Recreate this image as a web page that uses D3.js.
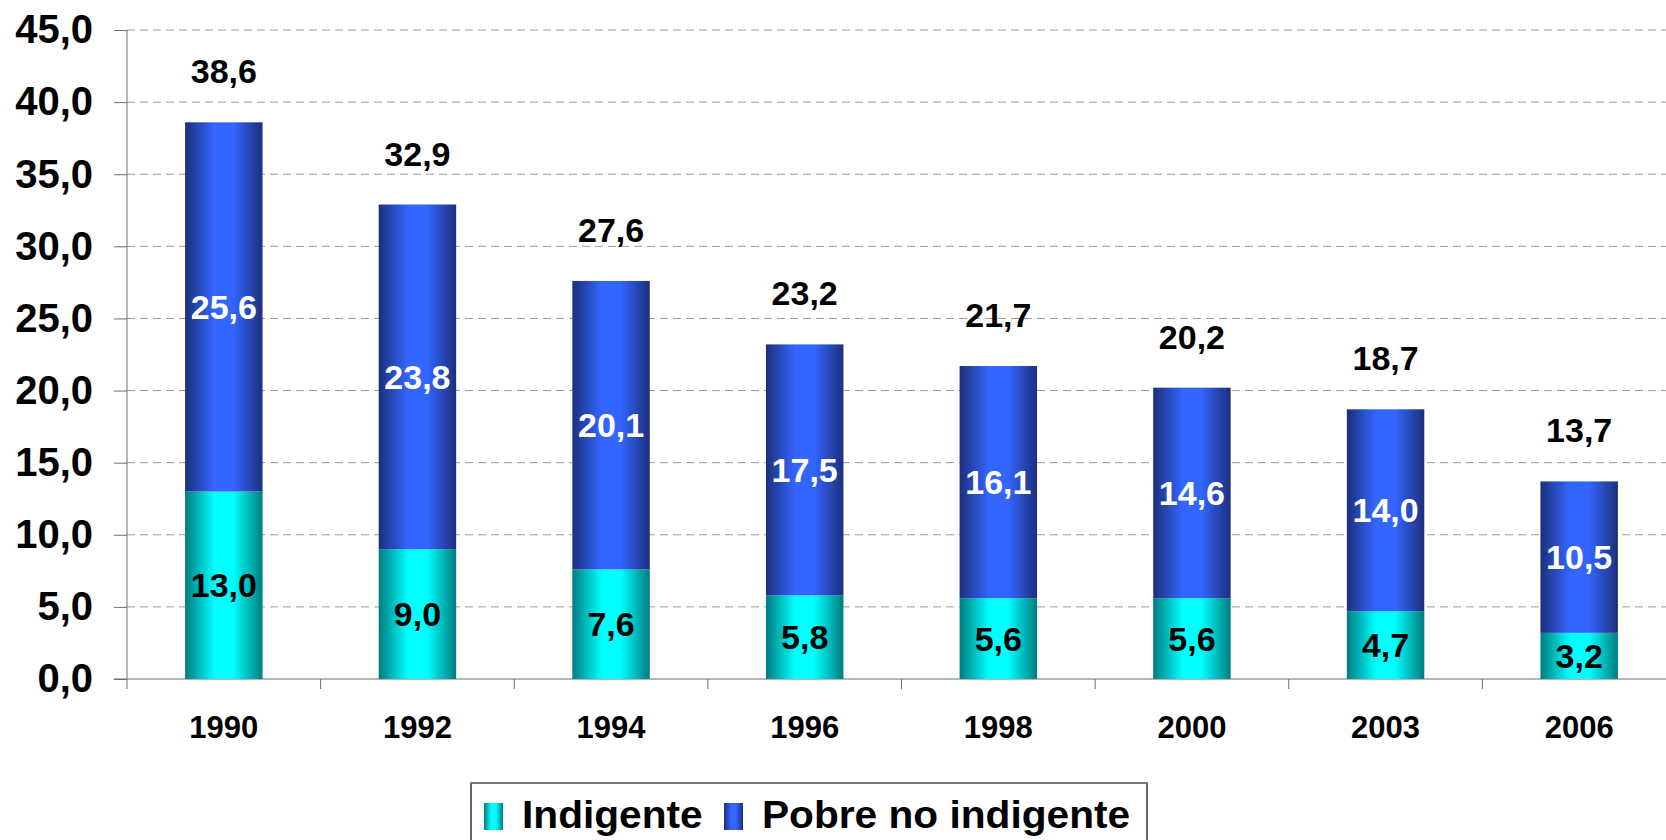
<!DOCTYPE html>
<html>
<head>
<meta charset="utf-8">
<script src="https://cdn.jsdelivr.net/npm/d3@7"></script>
<style>
  html, body { margin: 0; padding: 0; background: #fff; overflow: hidden; }
  svg { display: block; font-family: "Liberation Sans", Arial, sans-serif; font-weight: bold; }
  .grid line { stroke: #9a9a9a; stroke-dasharray: 8,5; }
  .axis path, .axis line { stroke: #6e6e6e; }
</style>
</head>
<body>
<div id="chart"></div>
<script>
const years = ["1990", "1992", "1994", "1996", "1998", "2000", "2003", "2006"];
const indigente = [13.0, 9.0, 7.6, 5.8, 5.6, 5.6, 4.7, 3.2];
const pobreNoIndigente = [25.6, 23.8, 20.1, 17.5, 16.1, 14.6, 14.0, 10.5];
const totals = [38.6, 32.9, 27.6, 23.2, 21.7, 20.2, 18.7, 13.7];
const yTicks = [0, 5, 10, 15, 20, 25, 30, 35, 40, 45];
const seriesNames = ["Indigente", "Pobre no indigente"];

const svgWidth = 1666, svgHeight = 840;
const margin = {top: 30, left: 127};
const plotRight = 1676, plotBottom = 679;
const fmt = v => v.toFixed(1).replace(".", ",");

const svg = d3.select("#chart").append("svg")
    .attr("width", svgWidth)
    .attr("height", svgHeight);

// bar gradients: dark edges, bright middle
const defs = svg.append("defs");
function addGradient(id, dark, bright) {
    const g = defs.append("linearGradient").attr("id", id)
        .attr("x1", "0%").attr("x2", "100%").attr("y1", "0%").attr("y2", "0%");
    g.append("stop").attr("offset", "0%").attr("stop-color", dark);
    g.append("stop").attr("offset", "38%").attr("stop-color", bright);
    g.append("stop").attr("offset", "62%").attr("stop-color", bright);
    g.append("stop").attr("offset", "100%").attr("stop-color", dark);
}
addGradient("gradCyan", "#007c80", "#00ffff");
addGradient("gradBlue", "#1c2f7c", "#3366ff");

const x = d3.scaleBand()
    .domain(years)
    .range([margin.left, plotRight])
    .padding(0);

const y = d3.scaleLinear()
    .domain([0, 45])
    .range([plotBottom, margin.top]);

const barW = x.bandwidth() * 0.4, barOff = x.bandwidth() * 0.3;

// gridlines
svg.append("g").attr("class", "grid")
    .selectAll("line")
    .data(yTicks.filter(d => d > 0))
    .enter().append("line")
    .attr("x1", margin.left).attr("x2", svgWidth)
    .attr("y1", d => y(d)).attr("y2", d => y(d));

// y axis
const yAxis = svg.append("g").attr("class", "axis")
    .attr("transform", `translate(${margin.left},0)`)
    .call(d3.axisLeft(y).tickValues(yTicks).tickSize(13).tickPadding(21).tickFormat(fmt).tickSizeOuter(0));
yAxis.select(".domain").attr("d", `M0,${margin.top}V${plotBottom + 10}`);
yAxis.selectAll("text").attr("font-size", 40).attr("font-family", "Liberation Sans, Arial, sans-serif")
    .attr("font-weight", "bold").attr("fill", "#000");

// x axis: ticks at category boundaries
const xAxis = svg.append("g").attr("class", "axis")
    .attr("transform", `translate(0,${plotBottom})`);
xAxis.append("line").attr("x1", margin.left - 13).attr("x2", svgWidth).attr("y1", 0).attr("y2", 0);
xAxis.selectAll(".bound")
    .data(years.slice(1))
    .enter().append("line")
    .attr("x1", d => x(d)).attr("x2", d => x(d))
    .attr("y1", 0).attr("y2", 10);
xAxis.selectAll(".lbl")
    .data(years)
    .enter().append("text")
    .attr("x", d => x(d) + x.bandwidth() / 2)
    .attr("y", 59)
    .attr("text-anchor", "middle")
    .attr("font-size", 31)
    .text(d => d);

const stackData = years.map((yr, i) => ({year: yr, ind: indigente[i], pob: pobreNoIndigente[i], total: totals[i]}));

const bars = svg.append("g").selectAll("g")
    .data(stackData)
    .enter().append("g");

bars.append("rect")
    .attr("x", d => x(d.year) + barOff)
    .attr("width", barW)
    .attr("y", d => y(d.ind))
    .attr("height", d => y(0) - y(d.ind))
    .attr("fill", "url(#gradCyan)");

bars.append("rect")
    .attr("x", d => x(d.year) + barOff)
    .attr("width", barW)
    .attr("y", d => y(d.total))
    .attr("height", d => y(d.ind) - y(d.total))
    .attr("fill", "url(#gradBlue)");

bars.append("text")
    .attr("x", d => x(d.year) + x.bandwidth() / 2)
    .attr("y", d => (y(0) + y(d.ind)) / 2 + 12)
    .attr("text-anchor", "middle")
    .attr("font-size", 34)
    .attr("fill", "#000")
    .text(d => fmt(d.ind));

bars.append("text")
    .attr("x", d => x(d.year) + x.bandwidth() / 2)
    .attr("y", d => (y(d.ind) + y(d.total)) / 2 + 12)
    .attr("text-anchor", "middle")
    .attr("font-size", 34)
    .attr("fill", "#fff")
    .text(d => fmt(d.pob));

bars.append("text")
    .attr("x", d => x(d.year) + x.bandwidth() / 2)
    .attr("y", d => y(d.total) - 39)
    .attr("text-anchor", "middle")
    .attr("font-size", 34)
    .attr("fill", "#000")
    .text(d => fmt(d.total));

// legend
const legend = svg.append("g").attr("transform", "translate(471,783)");
legend.append("rect")
    .attr("x", 0).attr("y", 0).attr("width", 676).attr("height", 80)
    .attr("fill", "#fff").attr("stroke", "#000").attr("stroke-width", 1.2);
legend.append("line").attr("x1", 0).attr("x2", 676).attr("y1", 0).attr("y2", 0)
    .attr("stroke", "#777").attr("stroke-width", 2);
const legendX = [13, 253];
const legendFill = ["url(#gradCyan)", "url(#gradBlue)"];
const li = legend.selectAll(".item")
    .data(seriesNames)
    .enter().append("g")
    .attr("transform", (d, i) => `translate(${legendX[i]},0)`);
li.append("rect")
    .attr("x", 0).attr("y", 20).attr("width", 19).attr("height", 27)
    .attr("fill", (d, i) => legendFill[i]);
li.append("text")
    .attr("transform", "translate(38,45) scale(1.07,1.02)")
    .attr("font-size", 38)
    .attr("fill", "#000")
    .text(d => d);
</script>
</body>
</html>
